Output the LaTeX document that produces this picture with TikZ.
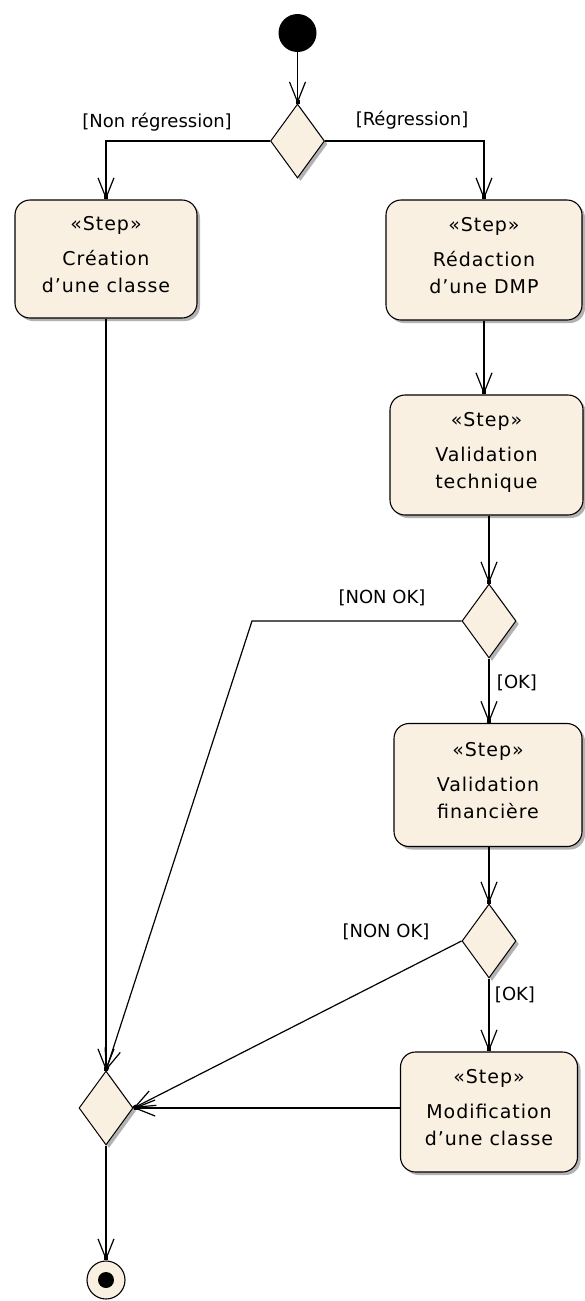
\documentclass[tikz,border=0pt]{standalone}
\usepackage{fontspec}
\setmainfont{DejaVu Sans}
\usetikzlibrary{arrows.meta,shapes.geometric,shadows}
\definecolor{cream}{RGB}{250,240,226}
\newcommand{\stepfont}{\fontsize{19}{27}\selectfont\addfontfeature{LetterSpace=5}}
\newcommand{\steptext}[2]{«Step»\\[8pt]#1\\#2\\[-17pt]\mbox{}}
\begin{document}
\begin{tikzpicture}[x=1pt,y=-1pt,
  font=\fontsize{18}{27}\selectfont,
  shad/.style={drop shadow={shadow xshift=3pt,shadow yshift=-3pt,fill=black,opacity=0.3}},
  stepbox/.style={draw, line width=1.1pt, fill=cream, rounded corners=15pt, align=center, inner sep=0pt, font=\stepfont, shad},
  decision/.style={diamond, draw, line width=1pt, fill=cream, minimum width=54pt, minimum height=74pt, inner sep=0pt, shad},
  arr/.style={line width=1.2pt, -{Straight Barb[length=20pt,width=16pt,sep=-4pt]Square[length=4pt,width=4pt]}},
  guard/.style={inner sep=0pt}
]
\useasboundingbox (0,0) rectangle (584,1301);
\fill[white] (0,0) rectangle (584,1301);

% nodes
\node[circle, fill=black, minimum size=38pt, inner sep=0pt] (start) at (297.5,33) {};
\node[decision] (d1) at (297.5,141) {};
\node[stepbox, minimum width=182pt, minimum height=118pt] (b1) at (106,259) {\steptext{Création}{d'une classe}};
\node[stepbox, minimum width=196pt, minimum height=120pt] (b2) at (484,260) {\steptext{Rédaction}{d'une DMP}};
\node[stepbox, minimum width=193pt, minimum height=120pt] (b3) at (486.5,455) {\steptext{Validation}{technique}};
\node[decision] (d2) at (489,621) {};
\node[stepbox, minimum width=188pt, minimum height=123pt] (b4) at (488,785) {\steptext{Validation}{financière}};
\node[decision] (d3) at (489,941) {};
\node[stepbox, minimum width=177pt, minimum height=120pt] (b5) at (489,1112) {\steptext{Modification}{d'une classe}};
\node[decision] (m) at (106,1108) {};
\node[circle, draw, line width=1.1pt, fill=cream, minimum size=38pt, inner sep=0pt] (final) at (106,1280) {};
\node[circle, fill=black, minimum size=16pt, inner sep=0pt] (finaldot) at (final.center) {};

% guards
\node[guard] (g1) at (157,122) {[Non régression]};
\node[guard] (g2) at (412,120) {[Régression]};
\node[guard] (g3) at (382,598) {[NON OK]};
\node[guard] (g4) at (517,683) {[OK]};
\node[guard] (g5) at (386,932) {[NON OK]};
\node[guard] (g6) at (515,995) {[OK]};

% connectors
\coordinate (k1) at (252,621);
\draw[arr] (start) -- (d1);
\draw[arr] (d1.west) -| (b1.north);
\draw[arr] (d1.east) -| (b2.north);
\draw[arr] (b1) -- (m);
\draw[arr] (b2.south) -- (b2.south |- b3.north);
\draw[arr] (d2.north |- b3.south) -- (d2.north);
\draw[arr] (d2.west) -- (k1) -- (m.north);
\draw[arr] (d2) -- (d2.south |- b4.north);
\draw[arr] (d3.north |- b4.south) -- (d3.north);
\draw[arr] (d3.west) -- (m.east);
\draw[arr] (d3) -- (b5);
\draw[arr] (b5.west |- m.east) -- (m.east);
\draw[arr] (m) -- (final);
\end{tikzpicture}
\end{document}
